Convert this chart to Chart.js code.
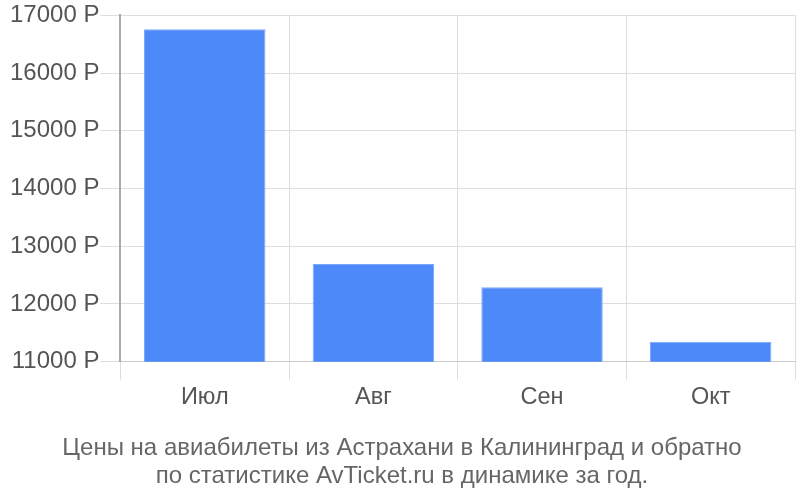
<!DOCTYPE html>
<html>
<head>
<meta charset="utf-8">
<script src="https://cdn.jsdelivr.net/npm/chart.js@4"></script>
<style>
  body { margin: 0; background: #fff; }
  #wrap { width: 800px; height: 500px; }
</style>
</head>
<body>
<div id="wrap"><canvas id="chart_prices" width="800" height="500"></canvas></div>
<script>
const months = ["Июл", "Авг", "Сен", "Окт"];
const prices = [16760, 12690, 12290, 11345];
const yTicks = [11000, 12000, 13000, 14000, 15000, 16000, 17000];
const titleLines = [
    "Цены на авиабилеты из Астрахани в Калининград и обратно",
    "по статистике AvTicket.ru в динамике за год."
];

Chart.defaults.font.family = "'Liberation Sans', Arial, sans-serif";

const chart_prices = new Chart("chart_prices", {
    type: "bar",
    data: {
        labels: months,
        datasets: [{
            data: prices,
            backgroundColor: "#4d89f9",
            borderColor: "#7aa7fb",
            borderWidth: 1,
            barPercentage: 0.72,
            categoryPercentage: 1
        }]
    },
    options: {
        responsive: false,
        animation: false,
        layout: {padding: {top: 0, right: 5, left: 9, bottom: 10}},
        plugins: {
            legend: {display: false},
            tooltip: {enabled: false},
            title: {
                display: true,
                position: "bottom",
                text: titleLines,
                color: "#666",
                font: {size: 24, weight: "normal", lineHeight: 1.17},
                padding: {top: 18, bottom: 0}
            }
        },
        scales: {
            x: {
                grid: {color: "#ddd", tickLength: 18, offset: true},
                border: {color: "#ccc"},
                ticks: {color: "#555", font: {size: 23.5}, padding: 4}
            },
            y: {
                min: 11000,
                max: 17000,
                afterBuildTicks: axis => { axis.ticks = yTicks.map(v => ({value: v})); },
                grid: {color: "#ddd", tickLength: 20},
                border: {color: "#aaa", width: 2},
                ticks: {
                    color: "#555",
                    font: {size: 24},
                    padding: 1,
                    callback: v => v + " Р"
                }
            }
        }
    }
});
</script>
</body>
</html>
